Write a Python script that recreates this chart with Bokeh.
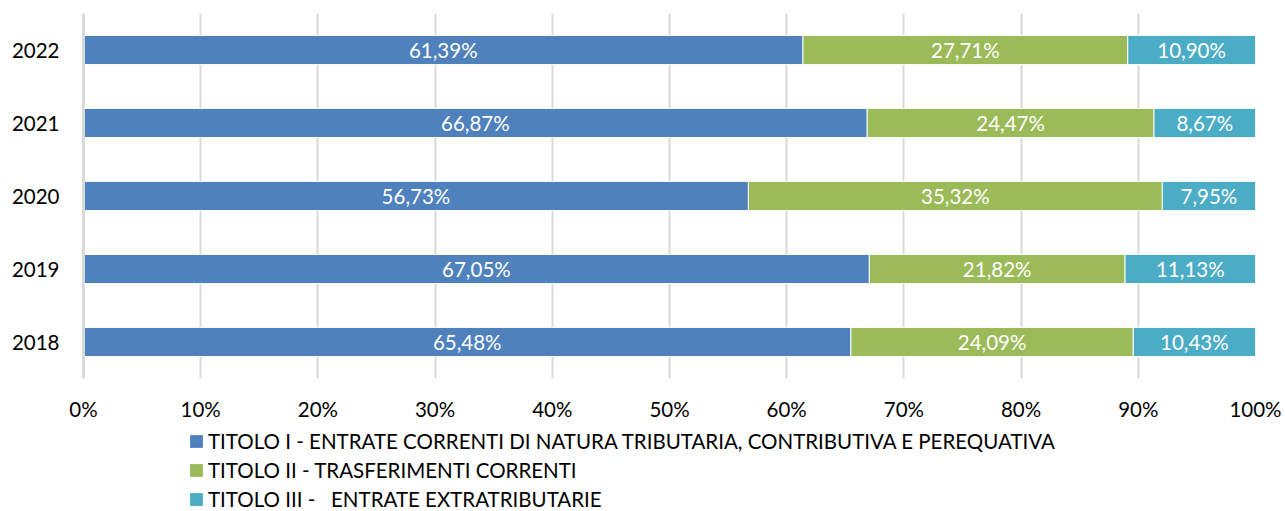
from bokeh.plotting import figure
from bokeh.models import ColumnDataSource, FactorRange, FixedTicker, Legend, LegendItem, LabelSet, Range1d
from bokeh.layouts import column
from bokeh.core.properties import value
from bokeh.embed import file_html
from bokeh.resources import INLINE

years = ["2018", "2019", "2020", "2021", "2022"]
titolo1 = [65.48, 67.05, 56.73, 66.87, 61.39]
titolo2 = [24.09, 21.82, 35.32, 24.47, 27.71]
titolo3 = [10.43, 11.13, 7.95, 8.67, 10.90]
series_names = [
    "TITOLO I - ENTRATE CORRENTI DI NATURA TRIBUTARIA, CONTRIBUTIVA E PEREQUATIVA",
    "TITOLO II - TRASFERIMENTI CORRENTI",
    "TITOLO III -   ENTRATE EXTRATRIBUTARIE",
]
colors = ["#4F81BD", "#9BBB59", "#4BACC6"]
x_ticks = [0, 10, 20, 30, 40, 50, 60, 70, 80, 90, 100]

FONT = "Lato"
FS = "20.5px"

def fmt(v):
    return f"{v:.2f}%".replace(".", ",")

keys = ["t1", "t2", "t3"]
data = dict(years=years, t1=titolo1, t2=titolo2, t3=titolo3)
src = ColumnDataSource(data)

p = figure(width=1285, height=423, y_range=FactorRange(*years), x_range=Range1d(0, 100),
           output_backend="svg", toolbar_location=None,
           min_border_left=83, min_border_right=30, min_border_top=13, min_border_bottom=45)
p.outline_line_color = None

renderers = p.hbar_stack(keys, y="years", height=0.4, color=colors, source=src,
                         line_color="white", line_width=1)

# data labels
lx, ly, lt = [], [], []
for i, y in enumerate(years):
    start = 0.0
    for vals in (titolo1, titolo2, titolo3):
        v = vals[i]
        lx.append(start + v / 2)
        ly.append(y)
        lt.append(fmt(v))
        start += v
lsrc = ColumnDataSource(dict(x=lx, y=ly, t=lt))
labels = LabelSet(x="x", y="y", text="t", source=lsrc, text_align="center", text_baseline="middle",
                  text_color="white", text_font=value(FONT), text_font_size=value(FS))
p.add_layout(labels)

# axes
p.xaxis.ticker = FixedTicker(ticks=x_ticks)
p.xaxis.major_label_overrides = {t: f"{t}%" for t in x_ticks}
p.xaxis.axis_line_color = None
p.xaxis.major_tick_line_color = None
p.xaxis.minor_tick_line_color = None
p.xaxis.major_label_standoff = 12
p.xaxis.major_label_text_font = FONT
p.xaxis.major_label_text_font_size = FS
p.xaxis.major_label_text_color = "#000000"

p.yaxis.axis_line_color = "#D9D9D9"
p.yaxis.axis_line_width = 3
p.yaxis.major_tick_line_color = None
p.yaxis.minor_tick_line_color = None
p.yaxis.major_label_standoff = 18
p.yaxis.major_label_text_font = FONT
p.yaxis.major_label_text_font_size = FS
p.yaxis.major_label_text_color = "#000000"

p.xgrid.grid_line_color = "#D9D9D9"
p.xgrid.grid_line_width = 2
p.ygrid.grid_line_color = None

# legend in a second, axis-less figure below the chart (its frame aligns with the chart's)
p2 = figure(width=1285, height=88, x_range=Range1d(0, 1), y_range=Range1d(0, 1),
            output_backend="svg", toolbar_location=None,
            x_axis_location=None, y_axis_location=None,
            min_border_left=0, min_border_right=0, min_border_top=0, min_border_bottom=0)
p2.outline_line_color = None
p2.grid.grid_line_color = None
nan = float("nan")
leg_renderers = [p2.quad(left=[nan], right=[nan], top=[nan], bottom=[nan],
                         fill_color=c, line_color=None)
                 for c in colors]

legend = Legend(items=[LegendItem(label=n, renderers=[r]) for n, r in zip(series_names, leg_renderers)],
                orientation="vertical", location=(105, 0))
legend.border_line_color = None
legend.background_fill_alpha = 0
legend.label_text_font = FONT
legend.label_text_font_size = FS
legend.label_text_color = "#000000"
legend.glyph_width = 16
legend.glyph_height = 16
legend.label_height = 20
legend.spacing = 5
legend.padding = 2
legend.margin = 0
legend.label_standoff = 4
p2.add_layout(legend, "center")

layout = column(p, p2, spacing=0)
open("out.html", "w").write(file_html(layout, INLINE))
